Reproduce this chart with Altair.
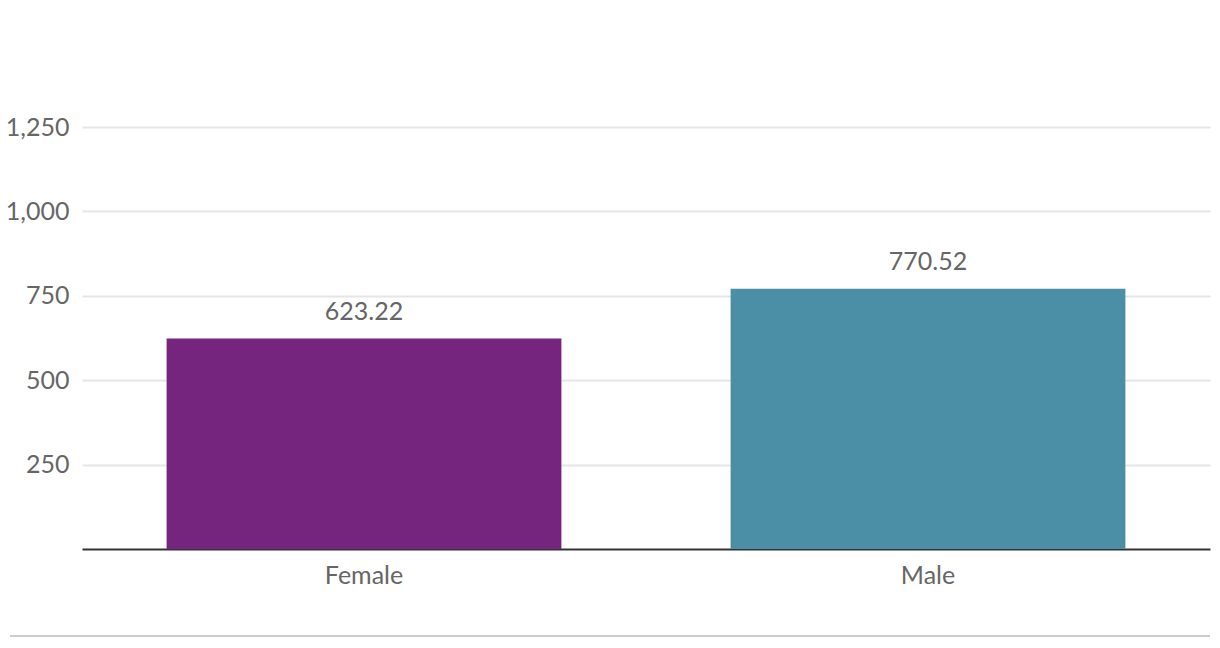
import altair as alt
import pandas as pd

categories = ["Female", "Male"]
values = [623.22, 770.52]
colors = ["#76257e", "#4a8fa5"]
y_ticks = [250, 500, 750, 1000, 1250]

df = pd.DataFrame({"gender": categories, "value": values})
df["label"] = [f"{v:.2f}" for v in values]

FONT = "Lato"
TXT = "#666666"
FS = 25

base = alt.Chart(df)

x_enc = alt.X(
    "gender:N",
    sort=categories,
    title=None,
    scale=alt.Scale(paddingInner=0.3, paddingOuter=0.15),
    axis=alt.Axis(
        labelAngle=0, labelFont=FONT, labelFontSize=FS, labelColor=TXT,
        labelPadding=14, ticks=False, domain=True, domainColor="#333333",
        domainWidth=2, grid=False,
    ),
)
y_enc = alt.Y(
    "value:Q",
    title=None,
    scale=alt.Scale(domain=[0, 1250], nice=False),
    axis=alt.Axis(
        values=y_ticks, format=",.0f", labelFont=FONT, labelFontSize=FS,
        labelColor=TXT, labelPadding=13, ticks=False, domain=False,
        grid=True, gridColor="#e6e6e6", gridWidth=2,
    ),
)

bars = base.mark_bar().encode(
    x=x_enc,
    y=y_enc,
    color=alt.Color("gender:N", scale=alt.Scale(domain=categories, range=colors), legend=None),
)

labels = base.mark_text(
    baseline="bottom", dy=-14, font=FONT, fontSize=FS, color=TXT,
).encode(
    x=alt.X("gender:N", sort=categories),
    y="value:Q",
    text="label:N",
)

bottom_rule = alt.Chart(pd.DataFrame({"a": [0]})).mark_rule(
    color="#cccccc", strokeWidth=2
).encode(
    x=alt.value(-72), x2=alt.value(1128), y=alt.value(509),
)

chart = alt.layer(bars, labels, bottom_rule).properties(
    width=1128,
    height=422,
    autosize=alt.AutoSizeParams(type="none"),
    padding={"left": 82, "top": 127, "right": 10, "bottom": 99},
).configure_view(stroke=None)

chart.save("out.html", embed_options={"renderer": "svg", "actions": False})
